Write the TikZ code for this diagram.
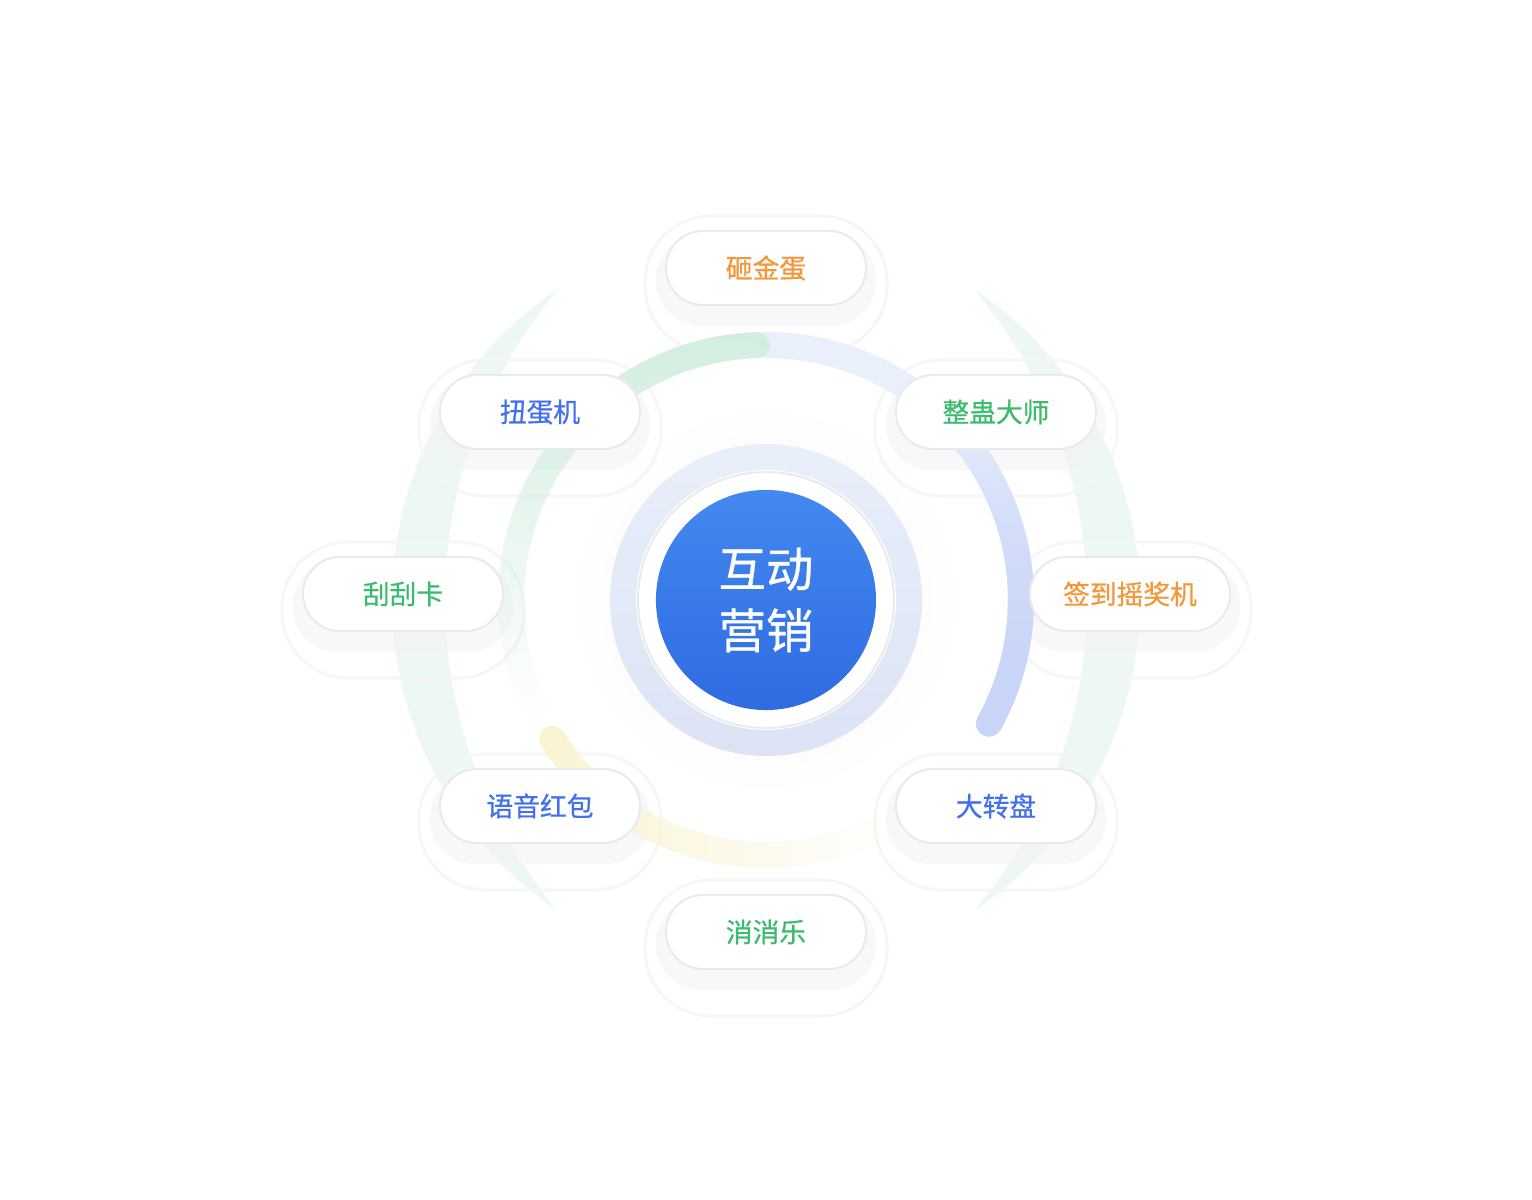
\documentclass[tikz,border=0pt]{standalone}
\usepackage{fontspec}
\setmainfont{Noto Sans CJK SC}
\newfontfamily\labelfont[FakeBold=0.7]{Noto Sans CJK SC}
\usetikzlibrary{fadings}
\definecolor{pillorange}{HTML}{F6963A}
\definecolor{pillblue}{HTML}{4270EE}
\definecolor{pillgreen}{HTML}{3BBC6C}
\definecolor{pilledge}{HTML}{E9EAEC}
\definecolor{shadowgray}{HTML}{F3F4F6}
\definecolor{shadowline}{HTML}{F5F6F7}
\definecolor{halogray}{HTML}{F5F6F8}
\definecolor{ringtop}{HTML}{E8EFFA}
\definecolor{ringbottom}{HTML}{DCE3F5}
\definecolor{corehi}{HTML}{4389EF}
\definecolor{corelo}{HTML}{2F6BE2}
\definecolor{arcgreen}{HTML}{D3EEDF}
\definecolor{arcblue}{HTML}{C8D5F7}
\definecolor{arcpale}{HTML}{EAEFFC}
\definecolor{arcyellow}{HTML}{FAF4D3}
\definecolor{crescent}{HTML}{EEF8F2}

\tikzset{
  pill/.style={draw=pilledge, line width=0.02cm, fill=white, rounded corners=0.37cm,
    minimum width=2cm, minimum height=0.74cm, inner sep=0pt,
    font=\labelfont\fontsize{7.6}{9}\selectfont},
  pillshadow/.style={fill=shadowgray, opacity=0.55, rounded corners=0.45cm,
    minimum width=2.2cm, minimum height=0.92cm},
  pillhalo/.style={draw=shadowline, line width=0.03cm, rounded corners=0.66cm,
    minimum width=2.42cm, minimum height=1.36cm},
  ring/.style={line width=0.26cm, line cap=round},
}

\begin{document}
\begin{tikzpicture}[x=0.01cm,y=0.01cm]
\useasboundingbox (-766,-600) rectangle (766,600);
\fill [white] (-766,-600) rectangle (766,600);

%% faint background
\shade [inner color=halogray,outer color=white] (0,0) circle (200);
% outer crescents
\fill [crescent] (124:374) arc (124:236:374) -- ++(0,0) arc (219.7:140.3:485) -- cycle;
\fill [crescent] (56:374) arc (56:-56:374) -- ++(0,0) arc (-39.7:39.7:485) -- cycle;

%% shadows under the pills
\node [pillhalo]   (egg-ha)     at (0,316)    {};
\node [pillhalo]   (gacha-ha)   at (-226,172) {};
\node [pillhalo]   (prank-ha)   at (230,172)  {};
\node [pillhalo]   (scratch-ha) at (-363,-10) {};
\node [pillhalo]   (signin-ha)  at (364,-10)  {};
\node [pillhalo]   (voice-ha)   at (-226,-222){};
\node [pillhalo]   (wheel-ha)   at (230,-222) {};
\node [pillhalo]   (match-ha)   at (0,-348)   {};
\node [pillshadow] (egg-sh)     at (0,320)    {};
\node [pillshadow] (gacha-sh)   at (-226,176) {};
\node [pillshadow] (prank-sh)   at (230,176)  {};
\node [pillshadow] (scratch-sh) at (-363,-6)  {};
\node [pillshadow] (signin-sh)  at (364,-6)   {};
\node [pillshadow] (voice-sh)   at (-226,-218){};
\node [pillshadow] (wheel-sh)   at (230,-218) {};
\node [pillshadow] (match-sh)   at (0,-344)   {};

%% middle ring of arcs
% blue, right side
\draw [ring,arcpale] (90:255) arc (90:-29:255);
\draw [ring,arcblue,path fading=north] (48:255) arc (48:-29:255);
\draw [ring,arcblue,path fading=north] (48:255) arc (48:-29:255);
% yellow, bottom
\draw [ring,arcyellow,path fading=east] (213:255) arc (213:300:255);
% green, left side
\draw [ring,arcgreen,path fading=south] (92:255) arc (92:205:255);

%% centre
\shade [top color=ringtop,bottom color=ringbottom] (0,0) circle (156);
\fill [white] (0,0) circle (130);
\draw [pilledge,line width=0.02cm] (0,0) circle (128);
\node [circle,minimum size=2.2cm,top color=corehi,bottom color=corelo,
  text=white,align=center,font=\labelfont\fontsize{13.5}{17.5}\selectfont] (core) at (0,0) {互动\\营销};

%% pills
\node [pill,text=pillorange] (egg)     at (0,332)    {砸金蛋};
\node [pill,text=pillblue]   (gacha)   at (-226,188) {扭蛋机};
\node [pill,text=pillgreen]  (prank)   at (230,188)  {整蛊大师};
\node [pill,text=pillgreen]  (scratch) at (-363,6)   {刮刮卡};
\node [pill,text=pillorange] (signin)  at (364,6)    {签到摇奖机};
\node [pill,text=pillblue]   (voice)   at (-226,-206){语音红包};
\node [pill,text=pillblue]   (wheel)   at (230,-206) {大转盘};
\node [pill,text=pillgreen]  (match)   at (0,-332)   {消消乐};

\end{tikzpicture}
\end{document}
